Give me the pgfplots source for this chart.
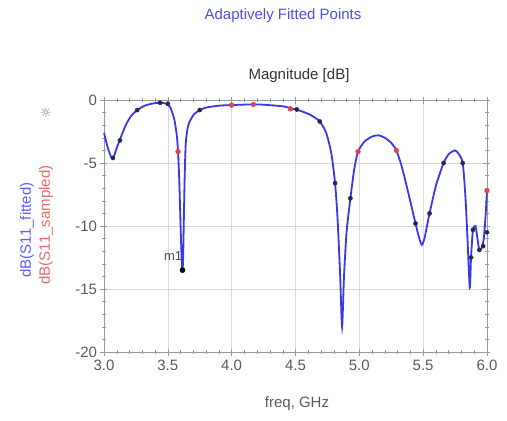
\documentclass[border=0pt]{standalone}
\usepackage{pgfplots}
\pgfplotsset{compat=1.18}
\usepackage{fontspec}
\setmainfont{Liberation Sans}
\newfontfamily\symfont{DejaVu Sans}
\definecolor{fitblue}{RGB}{55,55,235}
\definecolor{samred}{RGB}{225,70,70}
\definecolor{titleblue}{RGB}{80,80,225}
\definecolor{dotdark}{RGB}{40,40,70}
\definecolor{tickgray}{RGB}{90,90,90}
\begin{document}
\begin{tikzpicture}[x=1pt,y=1pt]
\begin{axis}[
  scale only axis, width=383pt, height=252pt,
  xmin=3, xmax=6, ymin=-20, ymax=0,
  xtick={3,3.5,...,6.01}, ytick={-20,-15,...,0},
  minor x tick num=4, minor y tick num=4,
  xticklabels={3.0,3.5,4.0,4.5,5.0,5.5,6.0},
  tick align=center,
  major tick length=7pt, minor tick length=4pt,
  axis line style={gray!80},
  every tick/.style={gray!80},
  grid=major, major grid style={gray!30, line width=0.6pt},
  tick label style={text=tickgray,font=\fontsize{15}{17}\selectfont},
  xticklabel style={yshift=-1pt},
  /pgf/number format/assume math mode=true,
  clip=false,
]
\coordinate (O) at (rel axis cs:0,0);
\addplot[fitblue, line width=1.8pt, smooth, tension=0.4, mark=none] coordinates {
(3.00,-2.6)(3.03,-3.8)(3.06,-4.6)(3.08,-4.4)(3.10,-3.8)(3.13,-3.0)(3.17,-2.0)(3.21,-1.3)
(3.26,-0.8)(3.32,-0.45)(3.38,-0.28)(3.44,-0.22)(3.49,-0.3)(3.52,-0.6)(3.55,-1.5)(3.57,-2.8)
(3.58,-4.1)(3.59,-6.5)(3.60,-10)(3.61,-13.2)(3.615,-13.5)(3.62,-12.5)(3.63,-7)(3.64,-3.5)
(3.66,-2.0)(3.70,-1.2)(3.75,-0.8)(3.80,-0.6)(3.90,-0.45)(4.00,-0.4)(4.20,-0.35)(4.40,-0.5)
(4.48,-0.7)(4.55,-0.9)(4.62,-1.2)(4.69,-1.7)(4.74,-2.6)(4.78,-4.2)(4.81,-6.6)(4.83,-9.5)
(4.85,-14)(4.865,-18.0)(4.88,-14)(4.90,-10.5)(4.93,-7.8)(4.96,-5.5)(4.99,-4.1)(5.04,-3.3)
(5.10,-2.9)(5.15,-2.8)(5.20,-3.0)(5.25,-3.4)(5.29,-4.0)(5.33,-5.2)(5.37,-6.8)(5.41,-8.5)
(5.44,-9.8)(5.47,-11.0)(5.49,-11.5)(5.51,-11.0)(5.53,-10.0)(5.55,-9.0)(5.60,-6.8)(5.66,-5.0)
(5.70,-4.3)(5.75,-4.0)(5.78,-4.3)(5.81,-5.0)(5.83,-7.5)(5.845,-10.5)(5.865,-14.9)(5.875,-12.5)
(5.89,-10.3)(5.91,-10.0)(5.925,-11.0)(5.94,-11.9)(5.96,-11.7)(5.975,-11.0)(5.99,-9.0)(6.00,-7.2)
};
\addplot[only marks, mark=*, mark size=2.1pt, dotdark, mark options={fill=dotdark}] coordinates {
(3.07,-4.6)(3.125,-3.2)(3.26,-0.8)(3.44,-0.22)(3.5,-0.3)(3.75,-0.8)(4.51,-0.75)(4.69,-1.7)
(4.81,-6.6)(4.93,-7.8)(5.44,-9.8)(5.55,-9.0)(5.66,-5.0)(5.81,-5.0)(5.875,-12.5)(5.89,-10.3)
(5.94,-11.9)(5.97,-11.6)(6.0,-10.5)
};
\addplot[only marks, mark=*, mark size=2.6pt, black] coordinates {(3.615,-13.5)};
\addplot[only marks, mark=*, mark size=2.4pt, samred, mark options={fill=samred}] coordinates {
(3.58,-4.1)(4.0,-0.4)(4.17,-0.35)(4.46,-0.7)(4.99,-4.1)(5.29,-4.0)(6.0,-7.2)
};
\node[text=black!70,font=\fontsize{13}{15}\selectfont,anchor=east] at (axis cs:3.64,-12.4) {m1};
\end{axis}
\begin{scope}[shift={(O)}]
\useasboundingbox (-104,-69) rectangle (403,352);
\node[text=titleblue,font=\fontsize{15}{17}\selectfont] at (179,336) {Adaptively Fitted Points};
\node[text=black!80,font=\fontsize{15}{17}\selectfont] at (195,276) {Magnitude [dB]};
\node[text=tickgray,font=\fontsize{15}{17}\selectfont] at (193,-52) {freq, GHz};
\node[text=fitblue!80,rotate=90,font=\fontsize{15}{17}\selectfont] at (-77,122) {dB(S11\_fitted)};
\node[text=samred!80,rotate=90,font=\fontsize{15}{17}\selectfont] at (-58,127) {dB(S11\_sampled)};
\node[text=gray,font=\symfont\fontsize{13}{15}\selectfont] at (-58,239) {☼};
\end{scope}
\end{tikzpicture}
\end{document}
